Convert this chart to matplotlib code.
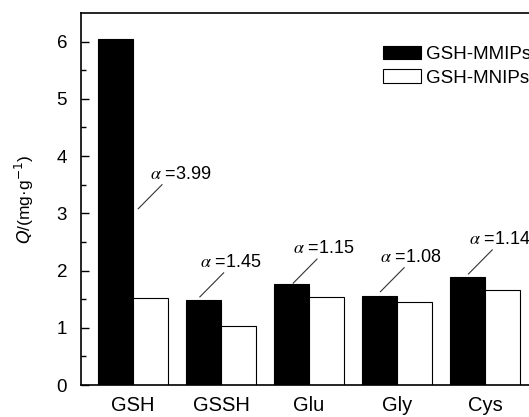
import matplotlib
matplotlib.use("Agg")
from matplotlib import pyplot as plt
import numpy as np

plt.rcParams['font.family'] = ['Liberation Sans', 'DejaVu Sans']

categories = ['GSH', 'GSSH', 'Glu', 'Gly', 'Cys']
mmips = [6.05, 1.49, 1.76, 1.56, 1.89]
mnips = [1.52, 1.03, 1.53, 1.45, 1.66]
alphas = ['3.99', '1.45', '1.15', '1.08', '1.14']

# annotation leader lines: start point (data coords) per category
line_start = [(0.06, 3.08), (0.76, 1.54), (1.82, 1.78), (2.81, 1.63), (3.81, 1.94)]
text_shift = [-0.14, -0.27, -0.27, -0.27, -0.26]
dx, dy = 0.27, 0.42

fig = plt.figure(figsize=(5.29, 4.17), dpi=100)
W, H = 529, 417
ax = fig.add_axes([81 / W, (H - 385) / H, (538 - 81) / W, (385 - 13) / H])

x = np.arange(len(categories))
w = 0.4
ax.bar(x - w / 2, mmips, width=w, color='black', edgecolor='black', linewidth=0.8, label='GSH-MMIPs')
ax.bar(x + w / 2, mnips, width=w, color='white', edgecolor='black', linewidth=0.8, label='GSH-MNIPs')

for i, a in enumerate(alphas):
    sx, sy = line_start[i]
    ax.plot([sx, sx + dx], [sy, sy + dy], color='#333333', linewidth=0.8)
    ax.text(sx + dx + text_shift[i], sy + dy + 0.1, r'$\alpha$ =' + a, fontsize=13,
            math_fontfamily='stix', ha='left', va='baseline')

ax.set_xlim(-0.59, 4.6)
ax.set_ylim(0, 6.5)
ax.set_xticks(x)
ax.set_xticklabels(categories, fontsize=14.5)
ax.set_yticks(np.arange(0, 7, 1))
ax.set_yticks(np.arange(0.5, 6.5, 1), minor=True)
ax.tick_params(axis='y', which='major', direction='in', length=6, width=1, labelsize=13.5, pad=10)
ax.tick_params(axis='y', which='minor', direction='in', length=3.5, width=1)
ax.tick_params(axis='x', length=0, pad=8)
ax.tick_params(axis='both', right=False, top=False)
for s in ax.spines.values():
    s.set_linewidth(1.2)

ax.set_ylabel(r'$Q$/(mg·g$^{-1}$)', fontsize=12.5, math_fontfamily='dejavusans', labelpad=15)

ax.legend(loc='upper left', bbox_to_anchor=((383 - 81) / 457, 0.912), frameon=False,
          fontsize=13.5, borderpad=0, handlelength=2.0, handleheight=0.75,
          handletextpad=0.27, labelspacing=0.32, borderaxespad=0)

fig.savefig('out.png', dpi=100)
